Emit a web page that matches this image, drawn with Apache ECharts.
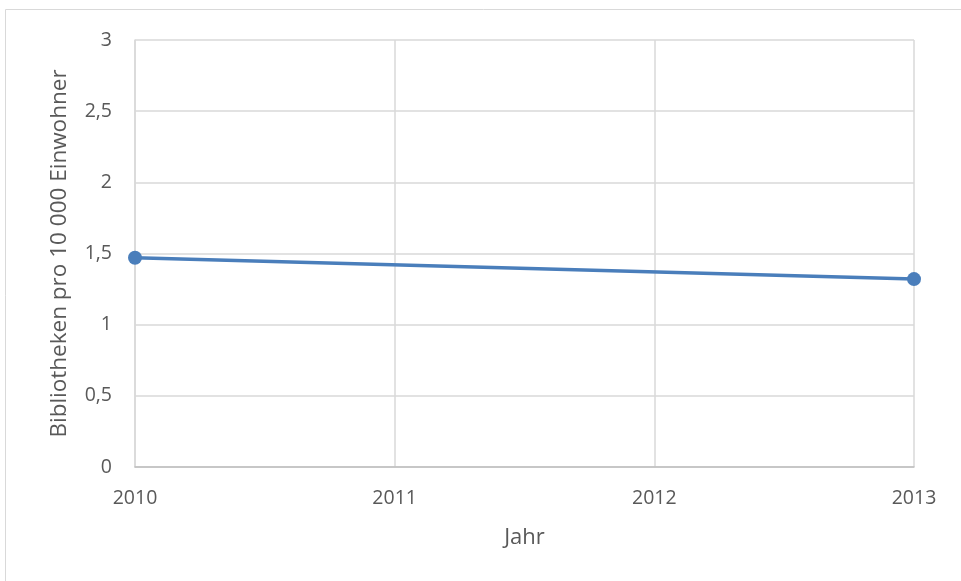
<!DOCTYPE html>
<html><head><meta charset="utf-8">
<script src="https://cdn.jsdelivr.net/npm/echarts@6/dist/echarts.min.js"></script>
<style>html,body{margin:0;padding:0;background:#fff}#c{width:961px;height:581px}</style>
</head><body><div id="c"></div>
<script>
const years = ['2010', '2011', '2012', '2013'];
const values = [1.47, null, null, 1.32];
const yTicks = { min: 0, max: 3, interval: 0.5 };
const xName = 'Jahr';
const yName = 'Bibliotheken pro 10 000 Einwohner';

const txt = '#595959';
const font = 'Open Sans';
const chart = echarts.init(document.getElementById('c'));
chart.setOption({
  animation: false,
  graphic: [{ type: 'rect', shape: { x: 5.5, y: 9.5, width: 1000, height: 1000 }, style: { fill: 'none', stroke: '#d9d9d9', lineWidth: 1 }, silent: true }],
  grid: { left: 135, right: 47, top: 40, bottom: 114 },
  xAxis: {
    type: 'category', data: years, boundaryGap: false,
    name: xName, nameLocation: 'middle', nameGap: 60,
    nameTextStyle: { color: txt, fontSize: 22, fontFamily: font },
    axisLine: { lineStyle: { color: '#bfbfbf', width: 1.5 } },
    axisTick: { show: false },
    axisLabel: { color: txt, fontSize: 19.5, fontFamily: font, margin: 21 },
    splitLine: { show: true, lineStyle: { color: '#d9d9d9', width: 1.5 } }
  },
  yAxis: {
    type: 'value', min: yTicks.min, max: yTicks.max, interval: yTicks.interval,
    name: yName, nameLocation: 'middle', nameGap: 64, nameRotate: 90,
    nameTextStyle: { color: txt, fontSize: 22.5, fontFamily: font },
    axisLine: { show: true, lineStyle: { color: '#d9d9d9', width: 1.5 } },
    axisTick: { show: false },
    axisLabel: { color: txt, fontSize: 19.5, fontFamily: font, margin: 23, formatter: v => String(v).replace('.', ',') },
    splitLine: { lineStyle: { color: '#d9d9d9', width: 1.5 } }
  },
  series: [{
    type: 'line', data: values, connectNulls: true,
    symbol: 'circle', symbolSize: 14,
    lineStyle: { color: '#4a7ebb', width: 3.5 },
    itemStyle: { color: '#4a7ebb' }
  }]
});
</script></body></html>
